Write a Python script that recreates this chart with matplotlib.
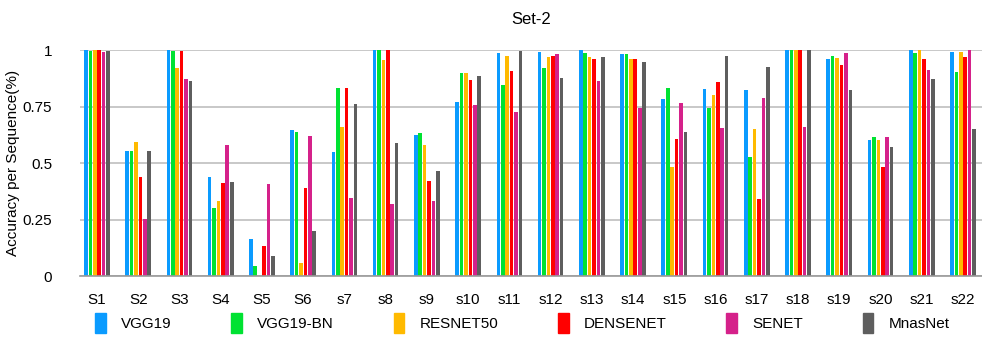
import numpy as np
import matplotlib.pyplot as plt
from matplotlib.patches import Patch

plt.rcParams['font.family'] = ['Liberation Sans', 'DejaVu Sans']

# Sequences and per-model accuracies
sequences = ['S1', 'S2', 'S3', 'S4', 'S5', 'S6', 's7', 's8', 's9', 's10', 's11',
             's12', 's13', 's14', 's15', 's16', 's17', 's18', 's19', 's20', 's21', 's22']
models = ['VGG19', 'VGG19-BN', 'RESNET50', 'DENSENET', 'SENET', 'MnasNet']

vgg19 = [1.0, 0.553, 1.0, 0.438, 0.165, 0.646, 0.549, 1.0, 0.624, 0.769, 0.985,
         0.99, 1.0, 0.981, 0.782, 0.826, 0.822, 1.0, 0.959, 0.601, 1.0, 0.99]
vgg19_bn = [0.994, 0.553, 0.994, 0.301, 0.046, 0.637, 0.831, 1.0, 0.632, 0.897, 0.844,
            0.919, 0.985, 0.981, 0.831, 0.743, 0.526, 1.0, 0.972, 0.615, 0.985, 0.901]
resnet50 = [1.0, 0.593, 0.919, 0.332, 0.0, 0.059, 0.659, 0.954, 0.579, 0.897, 0.976,
            0.968, 0.968, 0.959, 0.482, 0.8, 0.65, 1.0, 0.963, 0.601, 1.0, 0.99]
densenet = [1.0, 0.438, 0.994, 0.412, 0.134, 0.39, 0.831, 1.0, 0.421, 0.866, 0.906,
            0.972, 0.959, 0.959, 0.606, 0.857, 0.341, 1.0, 0.932, 0.482, 0.959, 0.968]
senet = [0.99, 0.253, 0.871, 0.579, 0.407, 0.619, 0.346, 0.319, 0.332, 0.756, 0.725,
         0.981, 0.862, 0.743, 0.765, 0.654, 0.787, 0.659, 0.985, 0.615, 0.91, 1.0]
mnasnet = [0.994, 0.553, 0.862, 0.416, 0.09, 0.2, 0.76, 0.588, 0.465, 0.884, 0.994,
           0.875, 0.968, 0.946, 0.637, 0.972, 0.924, 1.0, 0.822, 0.571, 0.871, 0.65]

series = [vgg19, vgg19_bn, resnet50, densenet, senet, mnasnet]
colors = ['#0A9BFF', '#00E232', '#FFBA00', '#FF0000', '#D5218A', '#5E5E5E']

fig = plt.figure(figsize=(9.82, 3.43), dpi=100)
ax = fig.add_axes([0.0815, 0.195, 0.9185, 0.659])

x = np.arange(len(sequences))
step = 0.107
width = 0.088
for i, (vals, col) in enumerate(zip(series, colors)):
    ax.bar(x + (i - 2.5) * step, vals, width, color=col, zorder=3)

ax.set_xlim(-0.41, len(sequences) - 1 + 0.46)
ax.set_ylim(0, 1)
ax.set_yticks([0, 0.25, 0.5, 0.75, 1])
ax.set_yticklabels(['0', '0.25', '0.5', '0.75', '1'])
ax.set_xticks(x)
ax.set_xticklabels(sequences)
ax.tick_params(length=0, labelsize=11)
ax.tick_params(axis='x', pad=12)
ax.tick_params(axis='y', pad=20)
ax.grid(axis='y', color='#C4C4C4', linewidth=1.3, zorder=0)
for s in ['top', 'right', 'left']:
    ax.spines[s].set_visible(False)
ax.spines['bottom'].set_color('#9A9A9A')
ax.spines['bottom'].set_linewidth(1.2)
ax.spines['bottom'].set_zorder(4)

ax.set_ylabel('Accuracy per Sequence(%)', fontsize=11, labelpad=2)
ax.set_title('Set-2', fontsize=12, pad=19)

handles = [Patch(color=c, label=m) for c, m in zip(colors, models)]
fig.legend(handles=handles, loc='lower left', bbox_to_anchor=(0.083, -0.01), ncol=6,
           frameon=False, fontsize=11, handlelength=0.7, handleheight=1.6,
           handletextpad=1.0, columnspacing=3.9)

fig.savefig('out.png', dpi=100)
